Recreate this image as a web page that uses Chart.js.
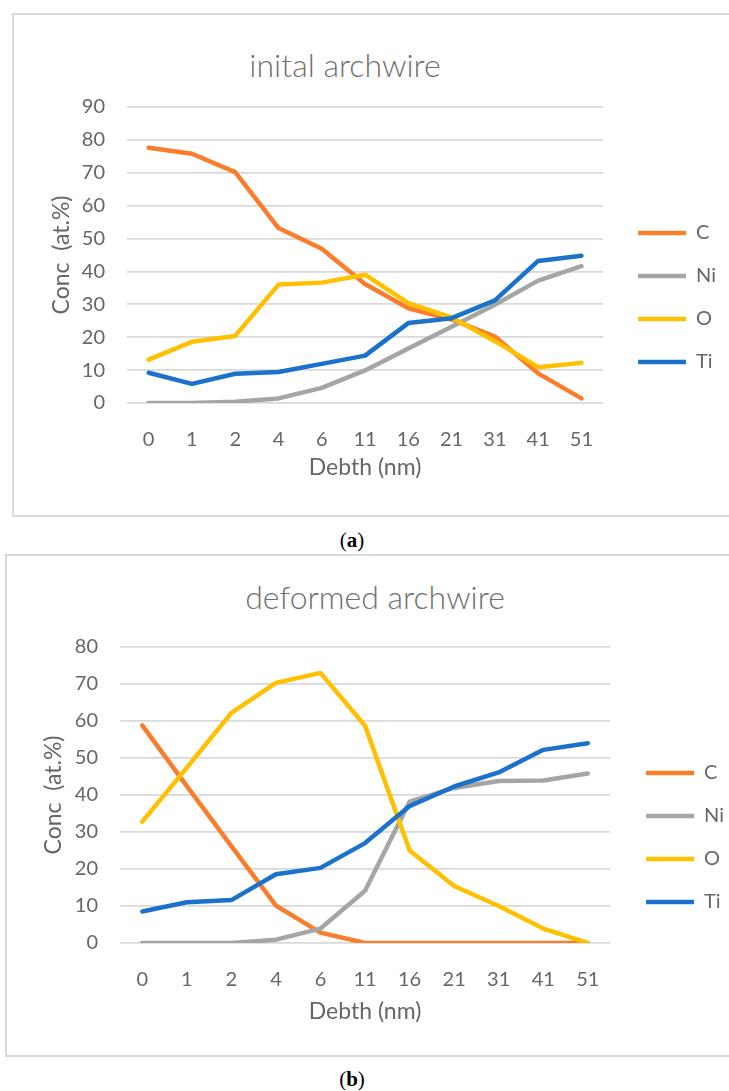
<!DOCTYPE html>
<html>
<head>
<meta charset="utf-8">
<script src="https://cdn.jsdelivr.net/npm/chart.js@4.4.0/dist/chart.umd.min.js"></script>
<style>
  body { margin: 0; background: #fff; width: 729px; height: 1091px; overflow: hidden; position: relative; font-family: Lato, sans-serif; }
  .frame { position: absolute; border: 2px solid #d9d9d9; box-sizing: border-box; }
  .box { position: absolute; }
  .title { position: absolute; transform: translate(-50%, -50%); color: #707070; font: 300 32px Lato, sans-serif; white-space: nowrap; }
  .caption { position: absolute; transform: translate(-50%, -50%); font: 21px "Liberation Serif", serif; color: #000; }
</style>
</head>
<body>
<div class="frame" style="left:12px;top:13px;width:740px;height:504px"></div>
<div class="title" style="left:345px;top:64px">inital archwire</div>
<div class="box" style="left:12px;top:13px"><canvas id="chartA" width="717" height="503"></canvas></div>
<div class="caption" style="left:352px;top:540px">(<b>a</b>)</div>

<div class="frame" style="left:5px;top:554px;width:740px;height:503px"></div>
<div class="title" style="left:375px;top:596px">deformed archwire</div>
<div class="box" style="left:5px;top:554px"><canvas id="chartB" width="724" height="502"></canvas></div>
<div class="caption" style="left:352px;top:1079px">(<b>b</b>)</div>

<script>
// depth categories (nm)
const depthLabels = ['0', '1', '2', '4', '6', '11', '16', '21', '31', '41', '51'];
const elementNames = ['C', 'Ni', 'O', 'Ti'];

// (a) initial archwire, at.%
const initialC  = [77.6, 75.8, 70.2, 53.2, 46.9, 36.2, 28.8, 25.4, 20.2, 9.0, 1.4];
const initialNi = [0, 0, 0.4, 1.4, 4.6, 9.9, 16.6, 23.2, 29.9, 37.2, 41.6];
const initialO  = [13.2, 18.6, 20.4, 36.0, 36.6, 39.0, 30.4, 26.0, 18.8, 10.9, 12.2];
const initialTi = [9.2, 5.8, 8.9, 9.4, 11.9, 14.4, 24.3, 25.8, 31.2, 43.2, 44.8];

// (b) deformed archwire, at.%
const deformedC  = [58.8, 42.4, 26.2, 10.1, 2.8, 0, 0, 0, 0, 0, 0];
const deformedNi = [0, 0, 0, 0.9, 3.9, 14.1, 38.2, 41.9, 43.8, 43.9, 45.8];
const deformedO  = [32.8, 47.4, 62.2, 70.3, 73.0, 58.7, 25.0, 15.4, 10.0, 3.9, 0];
const deformedTi = [8.5, 11.0, 11.6, 18.6, 20.3, 27.0, 37.0, 42.3, 46.1, 52.2, 54.0];

const lineColors = ['#F97D2B', '#A5A5A5', '#FFC000', '#1B72CB'];
const textColor = '#666666';
const gridColor = '#d9d9d9';

// moves the legend box after layout (Excel puts it a bit off-centre)
const legendNudge = {
    id: 'legendNudge',
    afterLayout(chart, args, opts) {
        const lg = chart.legend;
        lg.left += opts.dx; lg.right += opts.dx;
        lg.top += opts.dy; lg.bottom += opts.dy;
    }
};

function makeChart(id, series, yMax, cfg) {
    const datasets = series.map((vals, i) => ({
        label: elementNames[i],
        data: vals,
        borderColor: lineColors[i],
        backgroundColor: lineColors[i],
        borderWidth: 4.5,
        borderCapStyle: 'round',
        borderJoinStyle: 'round',
        pointRadius: 0,
        tension: 0,
        order: series.length - i // later series drawn on top, like Excel
    }));

    return new Chart(document.getElementById(id), {
        type: 'line',
        data: { labels: depthLabels, datasets },
        options: {
            responsive: false,
            animation: false,
            events: [],
            layout: { padding: { top: cfg.padTop, right: cfg.padRight, bottom: 0, left: 0 } },
            plugins: {
                title: { display: false },
                tooltip: { enabled: false },
                legend: {
                    position: 'right',
                    labels: {
                        color: textColor,
                        font: { family: 'Lato', size: 20 },
                        usePointStyle: true,
                        pointStyle: 'line',
                        pointStyleWidth: 48,
                        padding: 23,
                        sort: (a, b) => a.datasetIndex - b.datasetIndex
                    }
                },
                legendNudge: { dx: cfg.legendDx, dy: cfg.legendDy }
            },
            scales: {
                x: {
                    offset: true,
                    grid: { display: false },
                    border: { display: false },
                    ticks: { color: textColor, font: { family: 'Lato', size: 20 }, padding: 17, maxRotation: 0 },
                    title: {
                        display: true, text: 'Debth (nm)', color: textColor,
                        font: { family: 'Lato', size: 23 },
                        padding: { top: 0, bottom: cfg.xTitlePad }
                    },
                    afterFit: (scale) => { scale.height = cfg.xAxisHeight; }
                },
                y: {
                    min: 0,
                    max: yMax,
                    grid: { color: gridColor, lineWidth: 1.8, drawTicks: false },
                    border: { display: false },
                    ticks: { stepSize: 10, color: textColor, font: { family: 'Lato', size: 20 }, padding: 22 },
                    title: {
                        display: true, text: 'Conc  (at.%)', color: textColor,
                        font: { family: 'Lato', size: 23 },
                        padding: { top: cfg.yTitlePad, bottom: 0 }
                    },
                    afterFit: (scale) => { scale.width = cfg.yAxisWidth; }
                }
            }
        },
        plugins: [legendNudge]
    });
}

makeChart('chartA', [initialC, initialNi, initialO, initialTi], 90, {
    padTop: 94, padRight: 15, xAxisHeight: 113, xTitlePad: 35,
    yAxisWidth: 115, yTitlePad: 36, legendDx: 12, legendDy: -14
});

makeChart('chartB', [deformedC, deformedNi, deformedO, deformedTi], 80, {
    padTop: 93, padRight: 8, xAxisHeight: 113, xTitlePad: 31,
    yAxisWidth: 115, yTitlePad: 35, legendDx: 13, legendDy: -14
});
</script>
</body>
</html>
